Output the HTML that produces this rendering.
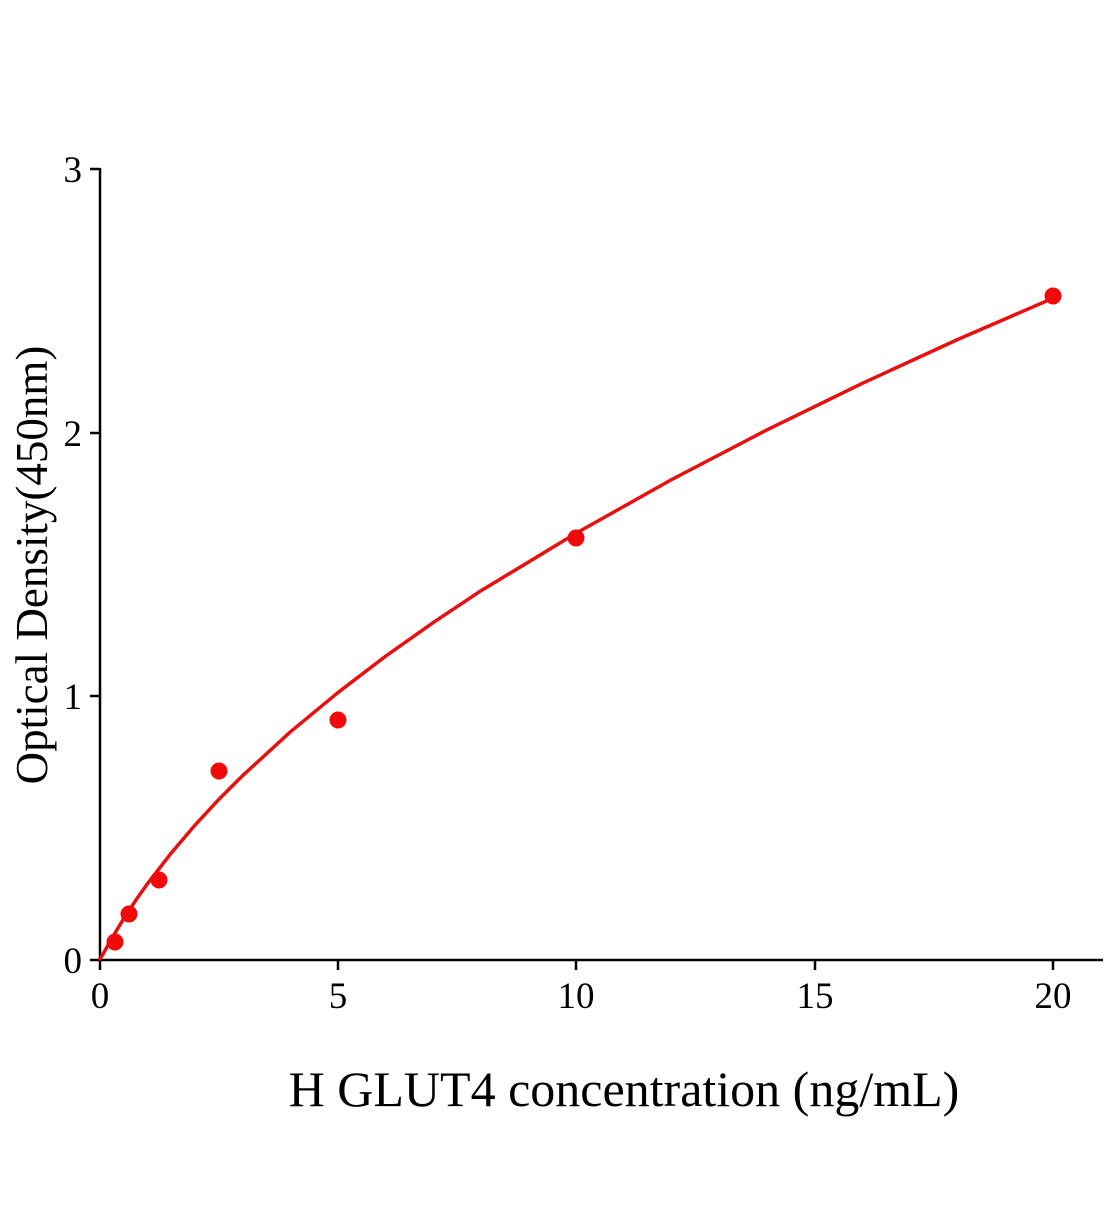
<!DOCTYPE html>
<html><head><meta charset="utf-8"><style>html,body{margin:0;padding:0;background:#fff}</style></head>
<body>
<svg width="1104" height="1200" xmlns="http://www.w3.org/2000/svg" font-family="Liberation Serif, serif">
<rect width="1104" height="1200" fill="#fff"/>
<g stroke="#000" stroke-width="2.5" fill="none">
<line x1="100" y1="168" x2="100" y2="961"/>
<line x1="99" y1="960" x2="1103" y2="960"/>
<line x1="90" y1="169" x2="100" y2="169"/>
<line x1="90" y1="433" x2="100" y2="433"/>
<line x1="90" y1="696" x2="100" y2="696"/>
<line x1="90" y1="960" x2="100" y2="960"/>
<line x1="100" y1="960" x2="100" y2="970"/>
<line x1="338" y1="960" x2="338" y2="970"/>
<line x1="576" y1="960" x2="576" y2="970"/>
<line x1="815" y1="960" x2="815" y2="970"/>
<line x1="1053" y1="960" x2="1053" y2="970"/>
</g>
<g font-size="37" text-anchor="end" fill="#000">
<text x="82" y="182">3</text>
<text x="82" y="446">2</text>
<text x="82" y="709">1</text>
<text x="82" y="973">0</text>
</g>
<g font-size="37" text-anchor="middle" fill="#000">
<text x="100" y="1008">0</text>
<text x="338" y="1008">5</text>
<text x="576" y="1008">10</text>
<text x="815" y="1008">15</text>
<text x="1053" y="1008">20</text>
</g>
<text x="624" y="1106" font-size="50" text-anchor="middle">H GLUT4 concentration (ng/mL)</text>
<text transform="translate(47,565) rotate(-90)" font-size="45" text-anchor="middle">Optical Density(450nm)</text>
<polyline fill="none" stroke="#e8100f" stroke-width="3.5" stroke-linejoin="round" stroke-linecap="round" points="100,959 104.8,951 111.9,938.2 123.8,918.5 135.7,900.4 147.65,883.5 171.5,852.7 195.3,824.8 219.1,799.1 243,775.3 290.6,731.7 338.3,692.3 385.9,656 433.6,622.3 481.2,590.6 576.5,533 671.8,479.5 767.1,429.8 862.4,383.3 957.7,339.5 1053,298.2"/>
<g fill="#f00a0a">
<circle cx="115" cy="942" r="8.5"/>
<circle cx="129" cy="914" r="8.5"/>
<circle cx="159" cy="880" r="8.5"/>
<circle cx="219" cy="771" r="8.5"/>
<circle cx="338" cy="720" r="8.5"/>
<circle cx="576" cy="538" r="8.5"/>
<circle cx="1053" cy="296" r="8.5"/>
</g>
</svg>
</body></html>
